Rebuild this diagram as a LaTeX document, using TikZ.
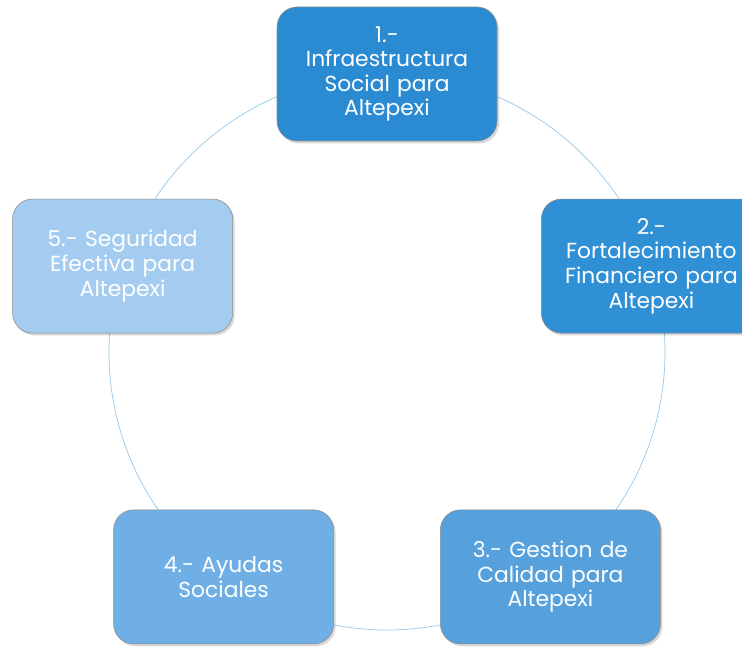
\documentclass[tikz,border=0pt]{standalone}
\usepackage{fontspec}
\setmainfont{Poppins}
\usetikzlibrary{shadows, calc}

\definecolor{boxone}{RGB}{42,138,210}
\definecolor{boxtwo}{RGB}{48,144,214}
\definecolor{boxthree}{RGB}{86,160,220}
\definecolor{boxfour}{RGB}{112,174,230}
\definecolor{boxfive}{RGB}{164,204,240}
\definecolor{ringblue}{RGB}{150,200,235}

\begin{document}
\begin{tikzpicture}[font=\fontsize{15.5}{17.5}\selectfont]

        % Setup the style for the boxes
        \tikzset{box style/.style={rectangle,
                                   rounded corners=0.5cm,
                                   minimum width=5.5cm,
                                   minimum height=3.35cm,
                                   text width=5.2cm,
                                   align=center,
                                   text=white,
                                   draw=black!45,
                                   line width=0.4pt,
                                   drop shadow={opacity=0.3, shadow xshift=0.5mm, shadow yshift=-0.6mm}}}

        % Page size and cut
        \useasboundingbox (0, 0) rectangle (18.55, 16.3);
        \clip (0, 0) rectangle (18.55, 16.3);
        \fill[white] (0, 0) rectangle (18.55, 16.3);

        % Centre of the ring
        \coordinate (C) at (9.675, 7.5);

        % Draw the ring
        \draw[ringblue, line width=0.5pt] (C) circle (6.95);

        % Draw the boxes
        \node[box style, fill=boxone]   at ($(C) + (90:6.95)$)   (I)   {1.-\\Infraestructura\\Social para\\Altepexi};
        \node[box style, fill=boxtwo]   at ($(C) + (18:6.95)$)   (II)  {2.-\\Fortalecimiento\\Financiero para\\Altepexi};
        \node[box style, fill=boxthree] at ($(C) + (-54:6.95)$)  (III) {3.- Gestion de\\Calidad para\\Altepexi};
        \node[box style, fill=boxfour]  at ($(C) + (-126:6.95)$) (IV)  {4.- Ayudas\\Sociales};
        \node[box style, fill=boxfive]  at ($(C) + (162:6.95)$)  (V)   {5.- Seguridad\\Efectiva para\\Altepexi};
    \end{tikzpicture}
\end{document}
